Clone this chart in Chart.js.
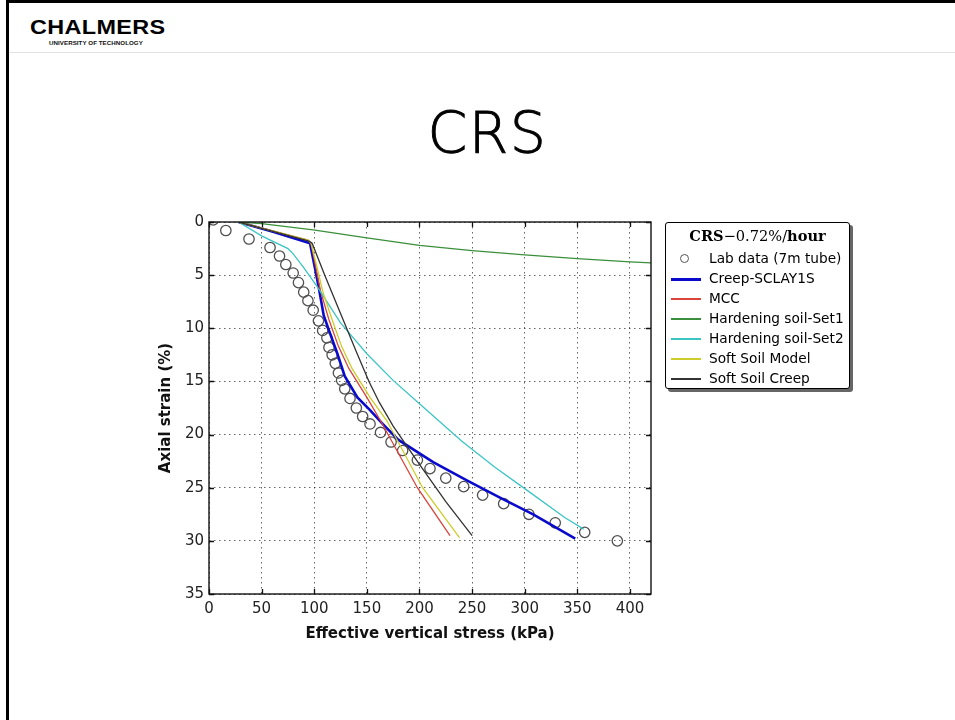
<!DOCTYPE html>
<html>
<head>
<meta charset="utf-8">
<script src="https://cdn.jsdelivr.net/npm/chart.js@4.4.0/dist/chart.umd.min.js"></script>
<style>
  html, body { margin:0; padding:0; background:#fff; }
  body { width:955px; height:720px; position:relative; overflow:hidden; font-family:"DejaVu Sans", sans-serif; }
  #frame { position:absolute; left:6px; top:0; width:949px; height:720px; border-left:3px solid #000; border-top:3px solid #000; box-sizing:border-box; }
  #sep { position:absolute; left:9px; top:52px; width:946px; height:1px; background:#e2e2e2; }
  #logo { position:absolute; left:30px; top:16px; font-family:"Liberation Sans", Arial, sans-serif; font-weight:bold; font-size:20px; line-height:22px; letter-spacing:0.3px; transform-origin:0 0; transform:scaleX(1.17); color:#000; }
  #uni { position:absolute; left:49px; top:39px; font-family:"Liberation Sans", Arial, sans-serif; font-weight:bold; font-size:6.2px; line-height:8px; color:#111; letter-spacing:0.05px; }
  #title { position:absolute; left:0; width:975px; top:98px; text-align:center; font-family:"DejaVu Sans", sans-serif; font-weight:200; font-size:57px; line-height:70px; color:#000; -webkit-text-stroke:0.9px #000; letter-spacing:1.5px; }
  #chartwrap { position:absolute; left:0; top:0; width:955px; height:720px; }
  #legend { position:absolute; left:665px; top:222px; width:185px; height:167px; border:1px solid #000; border-radius:3px; background:#fff; box-shadow:3px 3px 0 #666; box-sizing:border-box; }
  #legtitle { position:absolute; left:0; width:100%; top:3px; text-align:center; font-family:"DejaVu Serif", serif; font-size:14.6px; line-height:19px; color:#000; }
  .item { position:absolute; left:0; width:100%; height:20px; }
  .item .lbl { position:absolute; left:43px; top:1px; font-family:"DejaVu Sans", sans-serif; font-size:13.7px; line-height:17px; color:#000; white-space:nowrap; }
  .item .hl { position:absolute; left:5px; width:30px; }
  .item .mk { position:absolute; left:14px; top:5px; width:9px; height:9px; border:1.3px solid #555; border-radius:50%; box-sizing:border-box; }
</style>
</head>
<body>
<div id="frame"></div>
<div id="sep"></div>
<div id="logo">CHALMERS</div>
<div id="uni">UNIVERSITY OF TECHNOLOGY</div>
<div id="title">CRS</div>
<div id="chartwrap"><canvas id="c" width="955" height="720"></canvas></div>
<div id="legend"><div id="legtitle"><b>CRS</b>−0.72%/<b>hour</b></div></div>
<script>
// ---------- data ----------
const seriesNames = ["Lab data (7m tube)", "Creep-SCLAY1S", "MCC", "Hardening soil-Set1", "Hardening soil-Set2", "Soft Soil Model", "Soft Soil Creep"];

const labX = [4, 16, 38, 58, 67, 73, 80, 85, 90, 94, 99, 104, 108, 112, 114, 117, 120, 123, 126, 129, 134, 140, 146, 153, 163, 173, 184, 198, 210, 225, 242, 260, 280, 304, 329, 357, 388];
const labY = [-0.2, 0.8, 1.6, 2.4, 3.2, 4.0, 4.8, 5.7, 6.6, 7.4, 8.3, 9.3, 10.2, 10.9, 11.8, 12.5, 13.3, 14.2, 14.9, 15.7, 16.6, 17.5, 18.3, 19.0, 19.8, 20.7, 21.5, 22.4, 23.2, 24.1, 24.9, 25.7, 26.5, 27.5, 28.3, 29.2, 30.0];

const creepX = [28, 60, 93, 96, 100, 104, 109, 114, 122, 129, 141, 153, 165, 180, 213, 245, 276, 308, 348];
const creepY = [0, 0.9, 1.9, 2.0, 4.0, 6.0, 8.8, 10.2, 12.4, 14.5, 16.5, 17.7, 19.0, 20.5, 22.6, 24.3, 25.9, 27.5, 29.8];

const mccX = [28, 94, 97, 101, 106, 114, 123, 133, 150, 163, 198, 229];
const mccY = [0, 1.7, 2.0, 4.0, 6.5, 9.2, 11.7, 13.8, 16.5, 18.7, 25.0, 29.5];

const hs1X = [28, 50, 99, 150, 200, 250, 300, 350, 400, 420];
const hs1Y = [0, 0.15, 0.75, 1.5, 2.2, 2.7, 3.1, 3.45, 3.75, 3.85];

const hs2X = [28, 50, 75, 80, 90, 103, 125, 150, 175, 200, 240, 272, 303, 338, 356];
const hs2Y = [0, 1.3, 2.5, 3.0, 4.3, 6.1, 9.5, 12.4, 14.9, 17.1, 20.6, 23.1, 25.3, 27.8, 28.9];

const ssmX = [28, 94, 97, 102, 108, 117, 126, 136, 153, 169, 203, 238];
const ssmY = [0, 1.7, 2.0, 4.0, 6.5, 9.2, 11.7, 13.8, 16.5, 18.7, 25.0, 29.7];

const sscX = [28, 95, 98, 110, 125, 140, 152, 162, 175, 200, 225, 250];
const sscY = [0, 1.8, 2.0, 5.0, 8.6, 12.2, 15.0, 17.0, 19.2, 22.8, 26.3, 29.5];

const xTicks = [0, 50, 100, 150, 200, 250, 300, 350, 400];
const yTicks = [0, 5, 10, 15, 20, 25, 30, 35];

// ---------- build ----------
const pts = (xs, ys) => xs.map((x, i) => ({x: x, y: ys[i]}));
const colors = ["#505050", "#0a0acc", "#d9443c", "#3a8f3a", "#3cc4c4", "#cccc2a", "#333333"];
const widths = [1.3, 2.6, 1.3, 1.3, 1.3, 1.3, 1.3];
const seriesData = [pts(labX, labY), pts(creepX, creepY), pts(mccX, mccY), pts(hs1X, hs1Y), pts(hs2X, hs2Y), pts(ssmX, ssmY), pts(sscX, sscY)];
const n = seriesNames.length;

const datasets = seriesNames.map((name, i) => {
  if (i === 0) {
    return { label: name, data: seriesData[i], showLine: false, pointRadius: 5.2, pointHoverRadius: 5.2,
      pointBorderColor: colors[i], pointBackgroundColor: "rgba(0,0,0,0)", pointBorderWidth: widths[i], order: n - i };
  }
  return { label: name, data: seriesData[i], showLine: true, pointRadius: 0, borderColor: colors[i],
    borderWidth: widths[i], tension: 0, fill: false, order: n - i };
});

const framePlugin = {
  id: "framePlugin",
  afterDatasetsDraw(chart) {
    const {ctx, chartArea: a, scales} = chart;
    ctx.save();
    ctx.strokeStyle = "#111";
    ctx.lineWidth = 1.3;
    const L = 5;
    ctx.beginPath();
    xTicks.forEach(v => {
      const px = Math.round(scales.x.getPixelForValue(v)) + 0.5;
      ctx.moveTo(px, a.bottom); ctx.lineTo(px, a.bottom - L);
      ctx.moveTo(px, a.top); ctx.lineTo(px, a.top + L);
    });
    yTicks.forEach(v => {
      const py = Math.round(scales.y.getPixelForValue(v)) + 0.5;
      ctx.moveTo(a.left, py); ctx.lineTo(a.left + L, py);
      ctx.moveTo(a.right, py); ctx.lineTo(a.right - L, py);
    });
    ctx.stroke();
    ctx.lineWidth = 1.4;
    ctx.strokeRect(a.left, a.top, a.right - a.left, a.bottom - a.top);
    ctx.restore();
  }
};

const tickFont = { family: "DejaVu Sans", size: 15 };
const titleFont = { family: "DejaVu Sans", size: 15, weight: "bold" };

new Chart(document.getElementById("c"), {
  type: "scatter",
  data: { datasets },
  options: {
    responsive: false,
    animation: false,
    events: [],
    layout: { padding: { left: 157, top: 222, right: 304, bottom: 77 } },
    plugins: { legend: { display: false }, tooltip: { enabled: false }, title: { display: false } },
    scales: {
      x: {
        type: "linear", min: 0, max: 420,
        afterFit: s => { s.height = 49; },
        afterBuildTicks: s => { s.ticks = xTicks.map(v => ({value: v})); },
        ticks: { font: tickFont, color: "#222", padding: 6, maxRotation: 0, autoSkip: false, includeBounds: false },
        grid: { color: "rgba(0,0,0,0.6)", lineWidth: 1, drawTicks: false },
        border: { display: false, dash: [1.5, 3.5] },
        title: { display: true, text: "Effective vertical stress (kPa)", font: titleFont, color: "#111", padding: { top: 0, bottom: 0 } }
      },
      y: {
        type: "linear", min: 0, max: 35, reverse: true,
        afterFit: s => { s.width = 52; },
        afterBuildTicks: s => { s.ticks = yTicks.map(v => ({value: v})); },
        ticks: { font: tickFont, color: "#222", padding: 5, autoSkip: false, includeBounds: false },
        grid: { color: "rgba(0,0,0,0.6)", lineWidth: 1, drawTicks: false },
        border: { display: false, dash: [1.5, 3.5] },
        title: { display: true, text: "Axial strain (%)", font: titleFont, color: "#111", padding: { top: 0, bottom: 0 } }
      }
    }
  },
  plugins: [framePlugin]
});

// ---------- legend (HTML, from the same series) ----------
const leg = document.getElementById("legend");
seriesNames.forEach((name, i) => {
  const it = document.createElement("div");
  it.className = "item";
  it.style.top = (26 + i * 20) + "px";
  if (i === 0) {
    const m = document.createElement("div"); m.className = "mk"; it.appendChild(m);
  } else {
    const h = document.createElement("div"); h.className = "hl";
    const hh = i === 1 ? 3 : 2;
    h.style.height = hh + "px";
    h.style.background = colors[i];
    h.style.top = (10 - hh / 2) + "px";
    it.appendChild(h);
  }
  const l = document.createElement("div"); l.className = "lbl"; l.textContent = name; it.appendChild(l);
  leg.appendChild(it);
});
</script>
</body>
</html>
